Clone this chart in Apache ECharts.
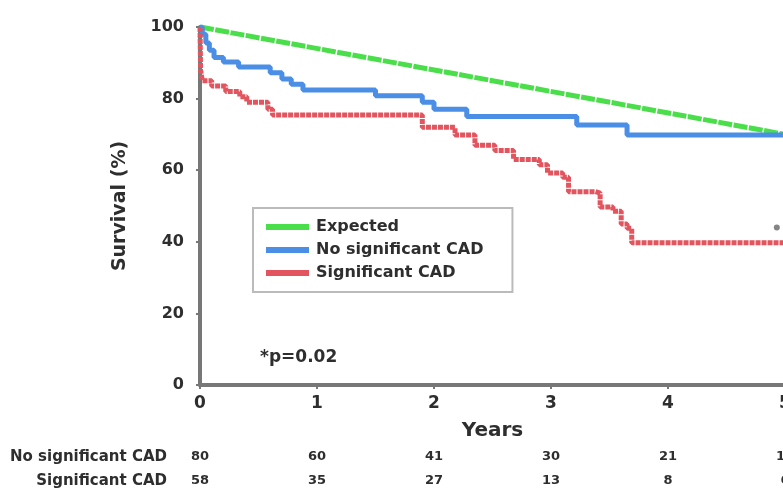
<!DOCTYPE html>
<html>
<head>
<meta charset="utf-8">
<script src="https://cdn.jsdelivr.net/npm/echarts@6/dist/echarts.min.js"></script>
<style>
html,body{margin:0;padding:0;background:#fff;}
#c{width:783px;height:490px;}
</style>
</head>
<body>
<div id="c"></div>
<script>
var FONT = '"DejaVu Sans", "Liberation Sans", Arial, sans-serif';
var seriesNames = ['Expected', 'No significant CAD', 'Significant CAD'];
var expected = [[0, 100], [5, 70]];
var noSigCAD = [[0,100],[0.02,98],[0.05,95.5],[0.08,93.5],[0.12,91.5],[0.2,90.2],[0.33,88.8],[0.6,87.2],[0.7,85.5],[0.78,84],[0.88,82.4],[1.5,80.8],[1.9,79],[2.0,77],[2.28,75],[3.22,72.6],[3.65,69.8],[5,69.8]];
var sigCAD = [[0,100],[0.005,88],[0.02,85],[0.1,83.5],[0.22,82],[0.34,80.5],[0.4,79],[0.58,77],[0.62,75.4],[1.9,72],[2.18,69.8],[2.35,67],[2.52,65.5],[2.68,63],[2.9,61.5],[2.97,59.2],[3.1,58],[3.15,54],[3.38,53.6],[3.42,49.7],[3.53,48.5],[3.6,45],[3.65,43.8],[3.69,39.7],[5,39.7]];
var censorMark = [[4.93, 44]];
var riskYears = [0, 1, 2, 3, 4, 5];
var riskNoSig = ['80', '60', '41', '30', '21', '15'];
var riskSig = ['58', '35', '27', '13', '8', '6'];
var yTicks = [0, 20, 40, 60, 80, 100];
var pText = '*p=0.02';

var chart = echarts.init(document.getElementById('c'));
var axisCol = '#777';
var txtCol = '#2e2e2e';
chart.setOption({
  backgroundColor: '#fff',
  animation: false,
  grid: {left: 200, right: -2, top: 27, bottom: 105, outerBoundsMode: 'none', containLabel: false},
  legend: {
    orient: 'vertical', left: 253, top: 208,
    borderColor: '#bbb', borderWidth: 2, borderRadius: 0,
    padding: [11, 29, 11, 13], itemGap: 7, itemWidth: 43, itemHeight: 6,
    icon: 'rect',
    data: seriesNames,
    textStyle: {fontFamily: FONT, fontWeight: 'bold', fontSize: 16, color: txtCol, padding: [0, 0, 0, 2]}
  },
  xAxis: {
    type: 'value', min: 0, max: 5, interval: 1,
    name: 'Years', nameLocation: 'middle', nameGap: 36,
    nameTextStyle: {fontFamily: FONT, fontWeight: 'bold', fontSize: 20, color: txtCol},
    axisLine: {lineStyle: {color: axisCol, width: 4}},
    axisTick: {show: true, length: 4, lineStyle: {color: axisCol, width: 2}},
    axisLabel: {fontFamily: FONT, fontWeight: 'bold', fontSize: 17, color: txtCol, margin: 10},
    splitLine: {show: false}
  },
  yAxis: {
    type: 'value', min: 0, max: 100, interval: 20,
    name: 'Survival (%)', nameLocation: 'middle', nameGap: 70, nameRotate: 90,
    nameTextStyle: {fontFamily: FONT, fontWeight: 'bold', fontSize: 19, color: txtCol},
    axisLine: {show: true, lineStyle: {color: axisCol, width: 4}},
    axisTick: {show: true, length: 4, lineStyle: {color: axisCol, width: 2}},
    axisLabel: {fontFamily: FONT, fontWeight: 'bold', fontSize: 16, color: txtCol, margin: 16,
      formatter: function (v) { return yTicks.indexOf(v) >= 0 ? String(v) : ''; }},
    splitLine: {show: false}
  },
  series: [
    {name: seriesNames[0], type: 'line', symbol: 'none', data: expected, z: 3,
     lineStyle: {color: '#4ade4a', width: 5, type: [14, 1.5]}, itemStyle: {color: '#4ade4a'}},
    {name: seriesNames[1], type: 'line', symbol: 'none', step: 'end', data: noSigCAD, z: 4,
     lineStyle: {color: '#4a8ee6', width: 5}, itemStyle: {color: '#4a8ee6'}},
    {name: seriesNames[2], type: 'line', symbol: 'none', step: 'end', data: sigCAD, z: 5,
     lineStyle: {color: '#e2545e', width: 5, type: [5, 1]}, itemStyle: {color: '#e2545e'}},
    {name: 'censor', type: 'scatter', symbol: 'circle', symbolSize: 6, data: censorMark,
     itemStyle: {color: '#666'}, silent: true}
  ]
});

var g = [];
g.push({type: 'text', left: 260, top: 349,
  style: {text: pText, font: 'bold 17px ' + FONT, fill: txtCol}});
var rowY = [457, 481];
var rowLabels = ['No significant CAD', 'Significant CAD'];
var rows = [riskNoSig, riskSig];
for (var r = 0; r < 2; r++) {
  g.push({type: 'text', x: 167, y: rowY[r],
    style: {text: rowLabels[r], font: 'bold 15px ' + FONT, fill: txtCol, align: 'right', verticalAlign: 'middle'}});
  for (var i = 0; i < riskYears.length; i++) {
    var px = chart.convertToPixel({xAxisIndex: 0}, riskYears[i]);
    g.push({type: 'text', x: px, y: rowY[r],
      style: {text: rows[r][i], font: 'bold 13px ' + FONT, fill: txtCol, align: 'center', verticalAlign: 'middle'}});
  }
}
chart.setOption({graphic: g});
</script>
</body>
</html>
